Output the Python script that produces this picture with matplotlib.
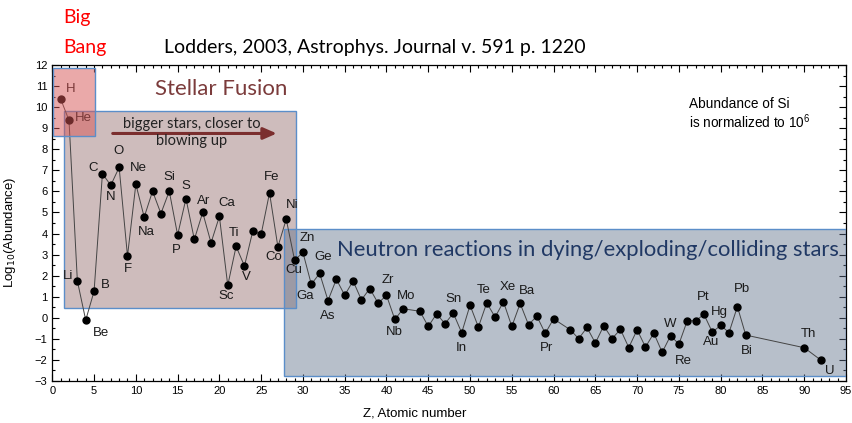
import matplotlib.pyplot as plt
from matplotlib.patches import Rectangle
from matplotlib.ticker import MultipleLocator

# Solar system abundances (log10, Si = 10^6), Lodders 2003
z = [1, 2, 3, 4, 5, 6, 7, 8, 9, 10, 11, 12, 13, 14, 15, 16, 17, 18, 19, 20,
     21, 22, 23, 24, 25, 26, 27, 28, 29, 30, 31, 32, 33, 34, 35, 36, 37, 38, 39, 40,
     41, 42, 44, 45, 46, 47, 48, 49, 50, 51, 52, 53, 54, 55, 56, 57, 58, 59, 60,
     62, 63, 64, 65, 66, 67, 68, 69, 70, 71, 72, 73, 74, 75, 76, 77, 78, 79, 80,
     81, 82, 83, 90, 92]
symbols = ["H", "He", "Li", "Be", "B", "C", "N", "O", "F", "Ne", "Na", "Mg", "Al", "Si",
           "P", "S", "Cl", "Ar", "K", "Ca", "Sc", "Ti", "V", "Cr", "Mn", "Fe", "Co", "Ni",
           "Cu", "Zn", "Ga", "Ge", "As", "Se", "Br", "Kr", "Rb", "Sr", "Y", "Zr", "Nb", "Mo",
           "Ru", "Rh", "Pd", "Ag", "Cd", "In", "Sn", "Sb", "Te", "I", "Xe", "Cs", "Ba", "La",
           "Ce", "Pr", "Nd", "Sm", "Eu", "Gd", "Tb", "Dy", "Ho", "Er", "Tm", "Yb", "Lu", "Hf",
           "Ta", "W", "Re", "Os", "Ir", "Pt", "Au", "Hg", "Tl", "Pb", "Bi", "Th", "U"]
log_ab = [10.39, 9.37, 1.75, -0.11, 1.26, 6.84, 6.29, 7.14, 2.93, 6.34, 4.78, 6.01, 4.95,
          6.01, 3.93, 5.66, 3.72, 5.00, 3.56, 4.81, 1.54, 3.39, 2.46, 4.12, 3.97, 5.93,
          3.37, 4.68, 2.74, 3.10, 1.59, 2.11, 0.82, 1.83, 1.07, 1.75, 0.85, 1.39, 0.69,
          1.07, -0.08, 0.43, 0.31, -0.41, 0.19, -0.28, 0.22, -0.71, 0.60, -0.44, 0.71,
          0.03, 0.76, -0.41, 0.68, -0.33, 0.08, -0.74, -0.05, -0.57, -0.99, -0.46, -1.20,
          -0.38, -0.99, -0.55, -1.41, -0.57, -1.39, -0.73, -1.64, -0.85, -1.25, -0.14,
          -0.14, 0.16, -0.68, -0.36, -0.70, 0.53, -0.82, -1.42, -2.01]

# which elements get a label, and where (offset in pixels, up is +)
label_offsets = {
    "H": (10, 10), "He": (14, 2), "Li": (-9, 5), "Be": (15, -13), "B": (11, 6),
    "C": (-9, 6), "N": (0, -12), "O": (-1, 16), "F": (0, -13), "Ne": (3, 16),
    "Na": (2, -15), "Si": (0, 14), "P": (-1, -15), "S": (0, 13), "Ar": (1, 11),
    "Ca": (7, 13), "Sc": (-2, -11), "Ti": (-2, 13), "V": (2, -11), "Fe": (2, 16),
    "Co": (-4, -10), "Ni": (6, 14), "Cu": (-1, -10), "Zn": (4, 14), "Ga": (-6, -12),
    "Ge": (4, 16), "As": (0, -15), "Zr": (1, 15), "Nb": (-1, -13), "Mo": (3, 13),
    "Sn": (-16, 6), "In": (0, -15), "Te": (-3, 13), "Xe": (4, 15), "Ba": (7, 12),
    "Pr": (1, -15), "W": (0, 12), "Re": (4, -17), "Pt": (-1, 17), "Au": (-1, -10),
    "Hg": (-1, 13), "Pb": (5, 18), "Bi": (1, -16), "Th": (4, 14), "U": (9, -11),
}

W, H = 852, 423
fig = plt.figure(figsize=(W / 100, H / 100), dpi=100)
ax = fig.add_axes([52.3 / W, (H - 381) / H, (846 - 52.3) / W, (381 - 65) / H])

def fpos(x, y):
    return x / W, 1 - y / H

ax.plot(z, log_ab, color="#444444", lw=0.7, zorder=5)
ax.plot(z, log_ab, "o", color="black", ms=5, zorder=6)

for s, x, y in zip(symbols, z, log_ab):
    if s in label_offsets:
        dx, dy = label_offsets[s]
        ax.annotate(s, (x, y), xytext=(dx, dy), textcoords="offset pixels",
                    ha="center", va="center", fontsize=9.5,
                    family="Liberation Sans", color="#1a1a1a", zorder=6)

ax.set_xlim(0, 95)
ax.set_ylim(-3, 12)
ax.xaxis.set_major_locator(MultipleLocator(5))
ax.xaxis.set_minor_locator(MultipleLocator(1))
ax.yaxis.set_major_locator(MultipleLocator(1))
ax.yaxis.set_minor_locator(MultipleLocator(0.5))
ax.tick_params(which="both", direction="in", top=True, right=True,
               labelsize=8, width=0.8)
ax.tick_params(which="major", length=5)
ax.tick_params(which="minor", length=2.5)
for lab in ax.get_xticklabels() + ax.get_yticklabels():
    lab.set_family("Liberation Sans")
for sp in ax.spines.values():
    sp.set_linewidth(0.9)

ax.set_xlabel("Z, Atomic number", family="Liberation Sans", fontsize=9.5)
ax.set_ylabel("Log$_{10}$(Abundance)", family="Liberation Sans", fontsize=9.5)
ax.yaxis.set_label_coords(-0.043, 0.47)
ax.xaxis.set_label_coords(0.457, -0.085)

# shaded regions
edge = "#5b8ec9"
ax.add_patch(Rectangle((1.4, 0.45), 27.8, 9.39, facecolor="#8b6060", alpha=0.42,
                       edgecolor="none", zorder=3))
ax.add_patch(Rectangle((27.75, -2.77), 67.2, 6.99, facecolor="#61718b", alpha=0.45,
                       edgecolor="none", zorder=3))
ax.add_patch(Rectangle((1.4, 0.45), 27.8, 9.39, facecolor="none", edgecolor=edge,
                       lw=1.0, zorder=4))
ax.add_patch(Rectangle((27.75, -2.77), 67.2, 6.99, facecolor="none", edgecolor=edge,
                       lw=1.0, zorder=4))
ax.add_patch(Rectangle((0.1, 8.62), 5.0, 3.26, facecolor="#d75555", alpha=0.5,
                       edgecolor="none", zorder=7))
ax.add_patch(Rectangle((0.1, 8.62), 5.0, 3.26, facecolor="none", edgecolor=edge,
                       lw=1.0, zorder=7))

ax.annotate("", xy=(27.2, 8.75), xytext=(6.9, 8.75),
            arrowprops=dict(arrowstyle="-|>,head_length=0.8,head_width=0.35",
                            color="#7b2e2e", lw=2.2), zorder=8)
ax.text(16.7, 8.8, "bigger stars, closer to\nblowing up", ha="center", va="center",
        fontsize=10.5, family="Lato", color="#222222", linespacing=1.3, zorder=9)

ax.text(0.213, 0.925, "Stellar Fusion", transform=ax.transAxes, ha="center",
        va="center", fontsize=16, family="Lato", color="#7b3b3b", zorder=9)
ax.text(0.675, 0.415, "Neutron reactions in dying/exploding/colliding stars",
        transform=ax.transAxes, ha="center", va="center", fontsize=15.8,
        family="Lato", color="#203864", zorder=9)

fig.text(*fpos(689, 104), "Abundance of Si", ha="left", va="center",
         fontsize=9.8, family="Liberation Sans")
fig.text(*fpos(689, 122), r"is normalized to 10$^{\mathregular{6}}$", ha="left",
         va="center", fontsize=9.8, family="Liberation Sans")

fig.text(*fpos(63, 18), "Big", ha="left", va="center", fontsize=14,
         family="Lato", color="red")
fig.text(*fpos(63, 47), "Bang", ha="left", va="center", fontsize=14,
         family="Lato", color="red")
fig.text(*fpos(375, 47), "Lodders, 2003, Astrophys. Journal v. 591 p. 1220",
         ha="center", va="center", fontsize=14, family="Lato", color="black")

fig.savefig("out.png", dpi=100)
